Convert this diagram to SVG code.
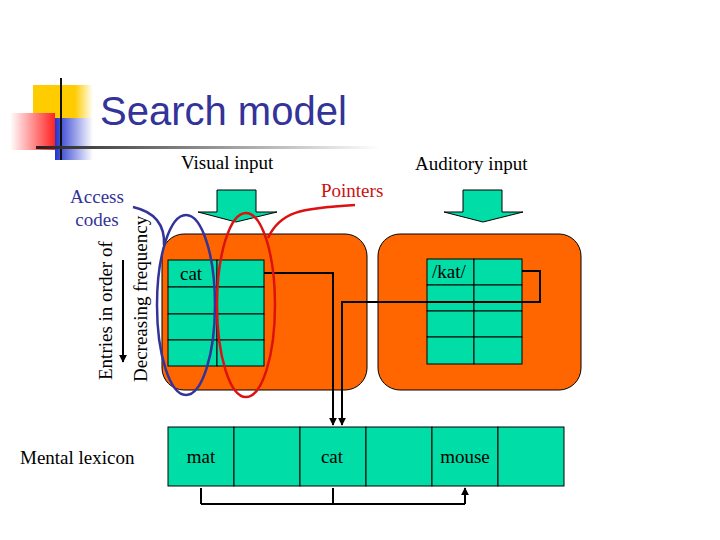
<svg xmlns="http://www.w3.org/2000/svg" width="720" height="540" viewBox="0 0 720 540">
<defs>
<style>
.t{font-family:"Liberation Serif",serif;font-size:19px}
.cell{fill:#00DDA6;stroke:#000;stroke-width:1}
.box{fill:#FF6600;stroke:#000;stroke-width:1}
.ln{fill:none;stroke:#000;stroke-width:2}
</style>
<marker id="ah" viewBox="0 0 10 10" refX="9" refY="5" markerWidth="4" markerHeight="4" orient="auto"><path d="M0,0L10,5L0,10z" fill="#000"/></marker>
<linearGradient id="hl" x1="0" x2="1"><stop offset="0" stop-color="#222"/><stop offset="1" stop-color="#fff"/></linearGradient>
<linearGradient id="rd" x1="0" x2="1"><stop offset="0" stop-color="#fff"/><stop offset="1" stop-color="#f22"/></linearGradient>
<linearGradient id="bl" x1="0" x2="1"><stop offset="0" stop-color="#2233cc"/><stop offset="1" stop-color="#fff"/></linearGradient>
<linearGradient id="yl" x1="0" x2="1"><stop offset="0" stop-color="#ffcc00"/><stop offset="0.7" stop-color="#ffcc00"/><stop offset="1" stop-color="#fff"/></linearGradient>
</defs>
<g id="logo">
<rect x="33" y="85" width="60" height="50" fill="url(#yl)"/>
<rect x="55" y="118" width="38" height="42" fill="url(#bl)"/>
<rect x="10" y="113" width="45" height="37" fill="url(#rd)"/>
<line x1="61" y1="78" x2="61" y2="160" stroke="#111" stroke-width="2"/>
<rect x="36" y="146" width="344" height="3" fill="url(#hl)"/>
</g>
<text x="100" y="125" font-family="Liberation Sans,sans-serif" font-size="40" fill="#333399">Search model</text>
<text class="t" x="181" y="169">Visual input</text>
<text class="t" x="415" y="170">Auditory input</text>
<text class="t" x="321" y="197" fill="#cc1111" font-size="17">Pointers</text>
<text class="t" x="97" y="203" fill="#333399" text-anchor="middle" font-size="17">Access</text>
<text class="t" x="97" y="226" fill="#333399" text-anchor="middle" font-size="17">codes</text>
<text class="t" transform="translate(112,380) rotate(-90)" font-size="16">Entries in order of</text>
<text class="t" transform="translate(147,382) rotate(-90)" font-size="16">Decreasing frequency</text>
<line x1="123" y1="260" x2="123" y2="362" class="ln" marker-end="url(#ah)"/>
<text class="t" x="20" y="464">Mental lexicon</text>
<g id="vis-arrow"><path class="cell" d="M217,190H256V212H277L236,222L198,212H217Z" stroke="none"/></g>
<g id="aud-arrow"><path class="cell" d="M463,190H502V212H523L483,222L444,212H463Z" stroke="none"/></g>
<g id="visual-box">
<rect class="box" x="162" y="234" width="205" height="156" rx="22"/>
<rect class="cell" x="168" y="260" width="49" height="27"/><rect class="cell" x="217" y="260" width="47" height="27"/>
<rect class="cell" x="168" y="287" width="49" height="27"/><rect class="cell" x="217" y="287" width="47" height="27"/>
<rect class="cell" x="168" y="314" width="49" height="26"/><rect class="cell" x="217" y="314" width="47" height="26"/>
<rect class="cell" x="168" y="340" width="49" height="26"/><rect class="cell" x="217" y="340" width="47" height="26"/>
<text class="t" x="180" y="280" font-size="17">cat</text>
</g>
<g id="auditory-box">
<rect class="box" x="378" y="234" width="203" height="156" rx="22"/>
<rect class="cell" x="427" y="259" width="47" height="26"/><rect class="cell" x="474" y="259" width="48" height="26"/>
<rect class="cell" x="427" y="285" width="47" height="26"/><rect class="cell" x="474" y="285" width="48" height="26"/>
<rect class="cell" x="427" y="311" width="47" height="26"/><rect class="cell" x="474" y="311" width="48" height="26"/>
<rect class="cell" x="427" y="337" width="47" height="27"/><rect class="cell" x="474" y="337" width="48" height="27"/>
<text class="t" x="432" y="278" font-size="17">/kat/</text>
</g>
<g id="lexicon">
<rect class="cell" x="168" y="427" width="66" height="59"/><rect class="cell" x="234" y="427" width="66" height="59"/>
<rect class="cell" x="300" y="427" width="66" height="59"/><rect class="cell" x="366" y="427" width="66" height="59"/>
<rect class="cell" x="432" y="427" width="66" height="59"/><rect class="cell" x="498" y="427" width="66" height="59"/>
<text class="t" x="201" y="463" text-anchor="middle" font-size="17">mat</text>
<text class="t" x="332" y="463" text-anchor="middle" font-size="17">cat</text>
<text class="t" x="465" y="463" text-anchor="middle" font-size="17">mouse</text>
</g>
<g id="connectors">
<path class="ln" d="M264,273H333V425" marker-end="url(#ah)"/>
<path class="ln" d="M522,271H540V302H342V425" marker-end="url(#ah)"/>
<path class="ln" d="M201,504H465M201,504V488M333,504V488M465,504V488"/>
<path class="ln" d="M201,495V488M333,495V488M465,495V488" marker-end="url(#ah)"/>
<ellipse cx="186" cy="305" rx="29" ry="90" fill="none" stroke="#333399" stroke-width="2.5"/>
<path d="M133,207C155,212 165,225 164,245" fill="none" stroke="#333399" stroke-width="2.5"/>
<ellipse cx="246" cy="305" rx="29" ry="92" fill="none" stroke="#dd1111" stroke-width="2.5"/>
<path d="M268,238C280,212 300,208 355,205" fill="none" stroke="#dd1111" stroke-width="2.5"/>
</g>
</svg>
